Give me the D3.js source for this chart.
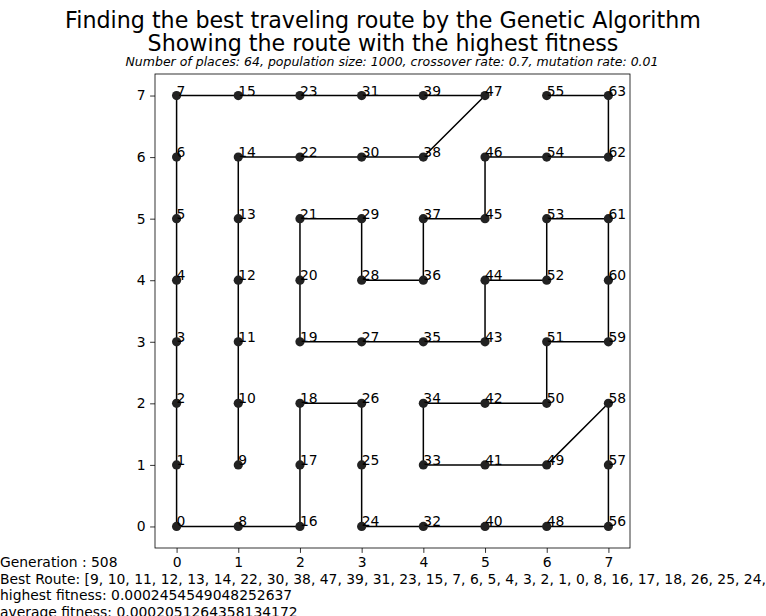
<!DOCTYPE html>
<html>
<head>
<meta charset="utf-8">
<script src="https://cdn.jsdelivr.net/npm/d3@7"></script>
<style>
  body { margin: 0; background: #fff; }
  svg text { font-family: "DejaVu Sans", sans-serif; fill: #000; }
</style>
</head>
<body>
<svg id="chart" width="766" height="616"></svg>
<script>
// 8x8 grid of places, place i sits at (floor(i/8), i%8)
const placeCount = 64;
const bestRoute = [9, 10, 11, 12, 13, 14, 22, 30, 38, 47, 39, 31, 23, 15, 7, 6, 5, 4, 3, 2, 1, 0,
  8, 16, 17, 18, 26, 25, 24, 32, 40, 48, 56, 57, 58, 49, 41, 33, 34, 42, 50, 51, 59, 60, 61,
  53, 52, 44, 43, 35, 27, 19, 20, 21, 29, 28, 36, 37, 45, 46, 54, 62, 63, 55];
const xTicks = [0, 1, 2, 3, 4, 5, 6, 7];
const yTicks = [0, 1, 2, 3, 4, 5, 6, 7];
const generation = 508;
const highestFitness = '0.0002454549048252637';
const averageFitness = '0.0002051264358134172';
const titleLines = ['Finding the best traveling route by the Genetic Algorithm', 'Showing the route with the highest fitness'];
const subtitle = 'Number of places: 64, population size: 1000, crossover rate: 0.7, mutation rate: 0.01';

const places = d3.range(placeCount).map((i) => ({ id: i, x: Math.floor(i / 8), y: i % 8 }));

const svg = d3.select('#chart');
const plotLeft = 155, plotRight = 630, plotTop = 74, plotBottom = 548;

const x = d3.scaleLinear().domain([-0.35, 7.35]).range([plotLeft, plotRight]);
const y = d3.scaleLinear().domain([-0.35, 7.35]).range([plotBottom, plotTop]);

// titles
svg.selectAll('text.title').data(titleLines).join('text').classed('title', true)
  .attr('x', 383).attr('y', (d, i) => 28 + i * 23)
  .attr('text-anchor', 'middle')
  .style('font-size', '22.2px')
  .text((d) => d);

svg.append('text')
  .attr('x', 392).attr('y', 66)
  .attr('text-anchor', 'middle')
  .style('font-size', '12.5px').style('font-style', 'italic')
  .text(subtitle);

// axes
const xAxis = svg.append('g').attr('transform', `translate(0,${plotBottom})`)
  .call(d3.axisBottom(x).tickValues(xTicks).tickSize(4.9).tickPadding(4.5).tickFormat(d3.format('d')));
const yAxis = svg.append('g').attr('transform', `translate(${plotLeft},0)`)
  .call(d3.axisLeft(y).tickValues(yTicks).tickSize(4.9).tickPadding(4.5).tickFormat(d3.format('d')));
[xAxis, yAxis].forEach((ax) => {
  ax.select('.domain').remove();
  ax.selectAll('text').style('font-size', '13.9px').style('font-family', '"DejaVu Sans", sans-serif');
  ax.selectAll('line').attr('stroke', '#000').attr('stroke-width', 0.8);
});

svg.append('rect')
  .attr('x', plotLeft).attr('y', plotTop).attr('width', plotRight - plotLeft).attr('height', plotBottom - plotTop)
  .attr('fill', 'none').attr('stroke', '#000').attr('stroke-width', 0.8);

// route
const routePts = bestRoute.map((id) => places[id]);
svg.append('path')
  .datum(routePts)
  .attr('fill', 'none').attr('stroke', '#000').attr('stroke-width', 1.5)
  .attr('d', d3.line().x((d) => x(d.x)).y((d) => y(d.y)));

svg.selectAll('circle.place').data(places).join('circle').classed('place', true)
  .attr('cx', (d) => x(d.x)).attr('cy', (d) => y(d.y)).attr('r', 4.6)
  .attr('fill', '#222');

svg.selectAll('text.lbl').data(places).join('text').classed('lbl', true)
  .attr('x', (d) => x(d.x)).attr('y', (d) => y(d.y))
  .style('font-size', '13.9px')
  .text((d) => d.id);

// info text at the bottom
const infoLines = [
  `Generation : ${generation}`,
  `Best Route: [${bestRoute.join(', ')}]`,
  `highest fitness: ${highestFitness}`,
  `average fitness: ${averageFitness}`,
];
svg.selectAll('text.info').data(infoLines).join('text').classed('info', true)
  .attr('x', 0).attr('y', (d, i) => 567 + i * 16.6)
  .style('font-size', '13.9px')
  .text((d) => d);
</script>
</body>
</html>
